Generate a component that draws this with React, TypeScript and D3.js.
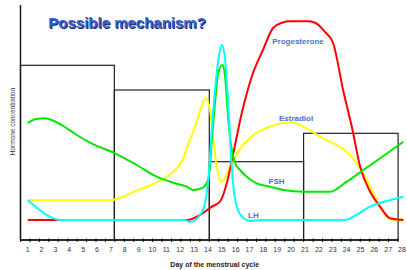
import React, { useEffect, useRef } from "react";
import * as d3 from "d3";

// day of the cycle and hormone level (arbitrary units, 0 at the x axis)
const days = [1, 2, 3, 4, 5, 6, 7, 8, 9, 10, 11, 12, 13, 14, 15, 16, 17, 18, 19, 20, 21, 22, 23, 24, 25, 26, 27, 28];

const estradiol: [number, number][] = [
  [1, 40], [7.06, 40], [7.66, 42.3], [8.86, 49.3], [10.06, 56], [11.03, 63.3], [11.75, 71.7],
  [12.23, 81.7], [12.59, 96.7], [12.95, 108.3], [13.31, 123.3], [13.6, 136], [13.85, 141.7],
  [14.15, 130], [14.39, 100], [14.64, 73.3], [14.92, 58.3], [15.24, 61.7], [15.6, 73.3],
  [15.96, 83.3], [16.44, 93.3], [17.28, 105], [18.48, 113.3], [19.92, 117.7], [21.13, 111.7],
  [22.09, 103.3], [23.05, 96.7], [24.02, 88.3], [24.74, 76.7], [25.46, 60], [26.18, 40],
  [26.9, 23.3], [27.38, 20], [28.1, 20.7],
];

const progesterone: [number, number][] = [
  [1, 20], [12.5, 20], [13.43, 25], [14.28, 33.3], [14.87, 38.3], [15.36, 56.7], [15.83, 86.7],
  [16.44, 126.7], [17.16, 163.3], [17.97, 190], [18.7, 212], [19.35, 217.3], [19.93, 218.7],
  [21.2, 218.7], [21.73, 217.3], [22.45, 208], [23.03, 197], [23.75, 150], [24.4, 112],
  [24.98, 73.3], [25.7, 48.3], [26.42, 33.3], [27.14, 21.7], [28.1, 20],
];

const fsh: [number, number][] = [
  [1, 116.7], [1.53, 120.7], [2.25, 121.7], [2.85, 119.3], [3.57, 114], [4.54, 105], [5.49, 97.3],
  [7.3, 86.7], [8.86, 75], [10.31, 63.3], [11.5, 57.3], [12.47, 53.3], [12.95, 50], [13.55, 51.7],
  [13.91, 56.7], [14.1, 66.7], [14.28, 100], [14.51, 137], [14.75, 167], [15.04, 175],
  [15.24, 163.3], [15.47, 120], [15.72, 90], [15.96, 77], [16.32, 70], [16.8, 63.3], [17.52, 56.7],
  [18.48, 53.3], [19.44, 50], [20.88, 48.3], [22.81, 48.3], [24.02, 58.3], [25.21, 70],
  [26.42, 81.7], [28.1, 98.3],
];

const lh: [number, number][] = [
  [1, 40], [2.85, 21.7], [3.33, 20], [12.35, 20], [12.71, 18], [13.43, 25], [13.79, 37],
  [14.03, 60], [14.28, 110], [14.51, 150], [14.75, 180], [15, 195], [15.24, 180], [15.43, 143.3],
  [15.6, 100], [15.79, 60], [16.08, 33.3], [16.56, 22], [17.04, 19], [17.76, 20], [23.9, 20],
  [24.5, 23.5], [25.7, 33.3], [26.9, 39], [28.1, 43.3],
];

// the four phase boxes: start day, end day, height
const phases: [number, number, number][] = [
  [0.48, 7.25, 174.7],
  [7.25, 14.1, 150],
  [14.1, 20.9, 78.3],
  [20.9, 27.72, 106.7],
];

const labels: [string, number, number][] = [
  ["Progesterone", 20.5, 197.7],
  ["Estradiol", 20.36, 121],
  ["FSH", 18.95, 58.3],
  ["LH", 17.28, 24.3],
];

const App = () => {
  const svgRef = useRef<SVGSVGElement>(null);

  useEffect(() => {
    const svg = d3.select(svgRef.current);
    svg.selectAll("*").remove();

    const width = 407;
    const height = 270;
    const left = 20.5;
    const bottom = 240;

    const x = d3.scaleLinear().domain([1, 28]).range([27.7, 402]);
    const y = d3.scaleLinear().domain([0, 235]).range([bottom, 5]);
    const font = "Arial, 'Liberation Sans', sans-serif";

    svg.append("rect").attr("width", width).attr("height", height).attr("fill", "#fff");

    // title with its dark shadow
    const title = svg.append("g").attr("font-family", font).attr("font-size", 15).attr("font-weight", "bold");
    title.append("text").attr("x", 49.3).attr("y", 28.8).attr("fill", "#1b2a6b").text("Possible mechanism?");
    title.append("text").attr("x", 48.3).attr("y", 27.8).attr("fill", "#3761d2").text("Possible mechanism?");

    // phase boxes
    svg.append("g")
      .selectAll("rect")
      .data(phases)
      .join("rect")
      .attr("x", d => x(d[0]))
      .attr("y", d => y(d[2]))
      .attr("width", d => x(d[1]) - x(d[0]))
      .attr("height", d => bottom - y(d[2]))
      .attr("fill", "none")
      .attr("stroke", "#222")
      .attr("stroke-width", 1.2);

    const line = d3.line<[number, number]>()
      .x(d => x(d[0]))
      .y(d => y(d[1]))
      .curve(d3.curveMonotoneX);

    const series: [[number, number][], string][] = [
      [estradiol, "#ffff00"],
      [progesterone, "#ff0000"],
      [fsh, "#00e600"],
      [lh, "#00ffff"],
    ];
    series.forEach(([data, color]) => {
      svg.append("path")
        .datum(data)
        .attr("fill", "none")
        .attr("stroke", color)
        .attr("stroke-width", 2)
        .attr("stroke-linejoin", "round")
        .attr("d", line);
    });

    // curve labels
    svg.append("g")
      .selectAll("text")
      .data(labels)
      .join("text")
      .attr("x", d => x(d[1]))
      .attr("y", d => y(d[2]))
      .attr("text-anchor", "middle")
      .attr("dominant-baseline", "middle")
      .attr("font-family", font)
      .attr("font-size", 8)
      .attr("font-weight", "bold")
      .attr("fill", "#4a6fd6")
      .text(d => d[0]);

    // axes
    const axis = svg.append("g").attr("stroke", "#111");
    axis.append("line").attr("x1", left).attr("x2", left).attr("y1", 5).attr("y2", bottom).attr("stroke-width", 1.4);
    axis.append("line").attr("x1", left).attr("x2", 398).attr("y1", bottom).attr("y2", bottom).attr("stroke-width", 1.4);
    const tickScale = d3.scaleLinear().domain([0, 40]).range([left, 398]);
    axis.selectAll("line.tick")
      .data(d3.range(41))
      .join("line")
      .attr("class", "tick")
      .attr("x1", d => tickScale(d))
      .attr("x2", d => tickScale(d))
      .attr("y1", bottom - 1.5)
      .attr("y2", bottom + 2)
      .attr("stroke-width", 1);

    svg.append("g")
      .selectAll("text")
      .data(days)
      .join("text")
      .attr("x", d => x(d))
      .attr("y", 252)
      .attr("text-anchor", "middle")
      .attr("font-family", font)
      .attr("font-size", 7)
      .attr("fill", "#333")
      .text(d => d);

    svg.append("text")
      .attr("x", 214.7)
      .attr("y", 266.5)
      .attr("text-anchor", "middle")
      .attr("font-family", font)
      .attr("font-size", 7)
      .attr("font-weight", "bold")
      .attr("fill", "#222")
      .text("Day of the menstrual cycle");

    svg.append("text")
      .attr("transform", "translate(14.5,121.5) rotate(-90)")
      .attr("text-anchor", "middle")
      .attr("font-family", font)
      .attr("font-size", 6.5)
      .attr("fill", "#333")
      .text("Hormone concentration");
  }, []);

  return (
    <div style={{ position: "fixed", left: 0, top: 0 }}>
      <svg ref={svgRef} width={407} height={270} style={{ display: "block" }} />
    </div>
  );
};

export default App;
